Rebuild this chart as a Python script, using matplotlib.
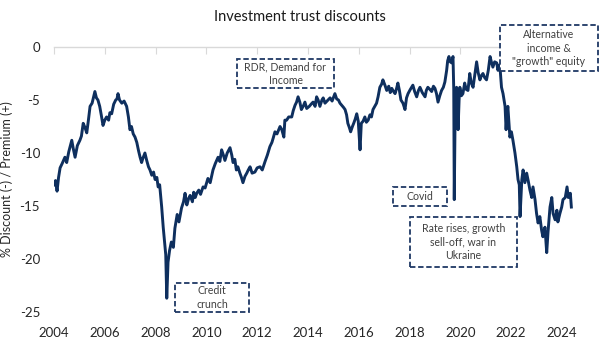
import matplotlib
matplotlib.use("Agg")
import matplotlib.pyplot as plt
from matplotlib.patches import Rectangle

plt.rcParams['font.family'] = ['Lato', 'DejaVu Sans']

# ---- data ----
years = [
    2004.00, 2004.06, 2004.12, 2004.18, 2004.24, 2004.32, 2004.43, 2004.50, 2004.58, 2004.70,
    2004.76, 2004.83, 2004.92, 2005.02, 2005.08, 2005.15, 2005.22, 2005.29, 2005.36, 2005.42,
    2005.50, 2005.57, 2005.61, 2005.67, 2005.73, 2005.80, 2005.86, 2005.93, 2006.00, 2006.07,
    2006.15, 2006.20, 2006.27, 2006.35, 2006.43, 2006.48, 2006.52, 2006.58, 2006.67, 2006.76,
    2006.86, 2006.93, 2006.99, 2007.05, 2007.12, 2007.19, 2007.26, 2007.33, 2007.39, 2007.45,
    2007.50, 2007.58, 2007.65, 2007.72, 2007.78, 2007.85, 2007.92, 2007.98, 2008.05, 2008.10,
    2008.16, 2008.24, 2008.30, 2008.37, 2008.40, 2008.44, 2008.49, 2008.55, 2008.62, 2008.70,
    2008.76, 2008.85, 2008.92, 2009.02, 2009.10, 2009.16, 2009.23, 2009.30, 2009.36, 2009.45,
    2009.50, 2009.56, 2009.62, 2009.70, 2009.77, 2009.87, 2009.95, 2010.06, 2010.15, 2010.26,
    2010.35, 2010.46, 2010.53, 2010.60, 2010.67, 2010.73, 2010.82, 2010.93, 2011.00, 2011.05,
    2011.12, 2011.18, 2011.24, 2011.32, 2011.38, 2011.44, 2011.52, 2011.59, 2011.65, 2011.72,
    2011.80, 2011.91, 2012.00, 2012.11, 2012.20, 2012.31, 2012.40, 2012.50, 2012.58, 2012.63,
    2012.70, 2012.78, 2012.90, 2012.97, 2013.05, 2013.09, 2013.16, 2013.24, 2013.36, 2013.42,
    2013.49, 2013.55, 2013.61, 2013.68, 2013.74, 2013.81, 2013.88, 2013.95, 2014.05, 2014.12,
    2014.20, 2014.28, 2014.34, 2014.40, 2014.47, 2014.55, 2014.60, 2014.67, 2014.75, 2014.87,
    2014.95, 2015.06, 2015.13, 2015.20, 2015.26, 2015.33, 2015.40, 2015.46, 2015.52, 2015.57,
    2015.63, 2015.68, 2015.75, 2015.80, 2015.86, 2015.92, 2015.98, 2016.05, 2016.10, 2016.17,
    2016.24, 2016.30, 2016.37, 2016.44, 2016.50, 2016.56, 2016.63, 2016.70, 2016.76, 2016.83,
    2016.90, 2016.95, 2017.03, 2017.10, 2017.18, 2017.24, 2017.30, 2017.37, 2017.43, 2017.49,
    2017.54, 2017.60, 2017.66, 2017.74, 2017.82, 2017.88, 2017.94, 2018.03, 2018.13, 2018.20,
    2018.28, 2018.35, 2018.41, 2018.50, 2018.61, 2018.66, 2018.72, 2018.80, 2018.87, 2018.94,
    2019.00, 2019.06, 2019.12, 2019.19, 2019.26, 2019.33, 2019.39, 2019.46, 2019.50, 2019.55,
    2019.60, 2019.66, 2019.71, 2019.74, 2019.76, 2019.79, 2019.82, 2019.85, 2019.88, 2019.91,
    2019.95, 2019.98, 2020.04, 2020.10, 2020.17, 2020.23, 2020.30, 2020.37, 2020.43, 2020.50,
    2020.57, 2020.64, 2020.70, 2020.77, 2020.83, 2020.89, 2020.96, 2021.03, 2021.10, 2021.17,
    2021.22, 2021.28, 2021.35, 2021.43, 2021.48, 2021.53, 2021.56, 2021.62, 2021.68, 2021.76,
    2021.80, 2021.84, 2021.87, 2021.95, 2022.01, 2022.07, 2022.15, 2022.22, 2022.27, 2022.32,
    2022.35, 2022.42, 2022.47, 2022.54, 2022.61, 2022.67, 2022.74, 2022.81, 2022.86, 2022.94,
    2023.00, 2023.06, 2023.13, 2023.20, 2023.25, 2023.33, 2023.40, 2023.45, 2023.53, 2023.60,
    2023.65, 2023.73, 2023.80, 2023.84, 2023.92, 2023.99, 2024.04, 2024.13, 2024.20, 2024.25,
    2024.33, 2024.37,
]
discount = [
    -13.0, -12.6, -13.6, -12.3, -11.4, -11.0, -10.4, -10.9, -9.9, -8.8,
    -9.6, -10.4, -9.3, -8.8, -8.4, -7.2, -7.6, -8.1, -6.8, -5.6,
    -5.3, -4.6, -4.2, -4.8, -5.0, -5.6, -6.4, -7.4, -6.9, -6.6,
    -6.9, -6.2, -6.3, -5.4, -5.0, -4.9, -4.4, -5.0, -5.3, -5.1,
    -5.6, -6.6, -7.8, -7.5, -8.2, -8.5, -9.0, -9.8, -10.4, -10.9,
    -10.5, -10.0, -10.7, -11.3, -11.6, -12.1, -11.8, -12.5, -12.3, -13.2,
    -13.0, -15.1, -17.0, -18.9, -19.6, -23.7, -20.3, -19.2, -18.4, -18.9,
    -17.1, -15.8, -16.5, -15.2, -14.6, -13.8, -14.9, -14.3, -14.0, -14.6,
    -13.7, -14.2, -13.8, -13.5, -13.9, -13.2, -13.3, -12.4, -12.8, -11.6,
    -11.0, -10.4, -10.8, -9.7, -10.2, -10.7, -10.0, -9.5, -10.2, -10.9,
    -10.6, -11.6, -11.3, -11.9, -12.3, -12.8, -12.2, -11.9, -11.6, -11.3,
    -11.9, -11.8, -11.4, -11.3, -11.6, -10.8, -10.2, -9.4, -9.0, -8.6,
    -8.0, -8.2, -7.5, -7.8, -8.5, -6.9, -6.9, -6.6, -6.6, -6.0,
    -5.5, -5.2, -4.7, -5.2, -5.9, -5.6, -5.2, -5.8, -5.6, -5.4,
    -5.2, -5.6, -4.7, -5.0, -5.6, -5.0, -4.8, -5.3, -5.1, -4.8,
    -5.1, -4.4, -4.9, -5.0, -5.3, -5.5, -5.7, -5.9, -6.4, -7.2,
    -7.6, -8.0, -7.5, -7.2, -6.8, -6.3, -7.0, -9.7, -7.2, -7.0,
    -6.6, -7.1, -6.9, -6.4, -6.6, -5.9, -5.6, -5.3, -4.7, -3.8,
    -3.5, -3.1, -3.6, -4.1, -3.7, -4.3, -3.9, -4.2, -4.4, -3.9,
    -3.4, -4.1, -5.0, -5.3, -5.9, -4.8, -4.4, -4.0, -3.6, -4.2,
    -4.7, -4.1, -3.8, -4.3, -4.7, -4.1, -3.8, -4.0, -4.2, -3.7,
    -3.9, -4.4, -5.2, -4.6, -4.1, -3.8, -3.3, -2.2, -1.3, -0.9,
    -1.4, -1.5, -0.9, -4.0, -14.4, -7.2, -5.5, -3.8, -5.0, -7.8,
    -5.0, -3.8, -4.6, -4.4, -3.4, -4.0, -4.1, -2.5, -3.4, -3.8,
    -2.6, -1.4, -2.4, -3.1, -2.7, -2.5, -2.9, -3.1, -2.2, -0.9,
    -1.4, -1.9, -1.4, -1.5, -2.2, -1.7, -1.9, -3.8, -4.4, -5.6,
    -7.8, -6.2, -5.6, -8.5, -8.0, -8.8, -10.0, -11.3, -12.5, -13.0,
    -16.0, -12.5, -11.6, -12.8, -11.9, -12.6, -13.5, -14.2, -13.2, -14.4,
    -15.7, -16.6, -16.0, -17.3, -17.9, -17.0, -19.4, -17.5, -15.1, -14.2,
    -15.7, -16.3, -15.4, -16.5, -15.7, -15.1, -14.4, -14.2, -13.2, -14.2,
    -13.8, -15.1,
]
xticks = [2004, 2006, 2008, 2010, 2012, 2014, 2016, 2018, 2020, 2022, 2024]
yticks = [0, -5, -10, -15, -20, -25]

annotations = [
    ("RDR, Demand for\nIncome", (237, 59, 334, 88)),
    ("Alternative\nincome &\n\"growth\" equity", (500, 25, 598, 71)),
    ("Covid", (393, 187, 447, 206)),
    ("Rate rises, growth\nsell-off, war in\nUkraine", (410, 217, 517, 267)),
    ("Credit\ncrunch", (175, 283, 249, 312)),
]

W, H = 600, 350
fig = plt.figure(figsize=(6, 3.5), dpi=100)
fig.patch.set_facecolor('white')

ax = fig.add_axes([54 / W, 1 - 312 / H, (581 - 54) / W, (312 - 47) / H])
ax.plot(years, discount, color='#0E2F5E', lw=2.1, solid_joinstyle='round')

ax.set_xlim(2004, 2024.75)
ax.set_ylim(-25, 0)
ax.set_xticks(xticks)
ax.set_xticklabels([str(t) for t in xticks])
ax.set_yticks(yticks)
ax.set_yticklabels([str(t) for t in yticks])

for s in ['left', 'right', 'bottom']:
    ax.spines[s].set_visible(False)
ax.spines['top'].set_color('#D9D9D9')
ax.spines['top'].set_linewidth(1.0)

ax.tick_params(axis='x', top=True, bottom=False, labeltop=False, labelbottom=True,
               direction='in', length=5, color='#D9D9D9', pad=11,
               labelsize=9.5, labelcolor='#262626')
ax.tick_params(axis='y', left=False, length=0, labelsize=9.5, labelcolor='#262626', pad=10)

ax.set_ylabel('% Discount (-) / Premium (+)', fontsize=9, color='#262626')
ax.yaxis.set_label_coords((13 - 54) / (581 - 54), 0.5)

fig.text(300 / W, 1 - 17 / H, 'Investment trust discounts', ha='center', va='center',
         fontsize=10.5, color='#1a1a1a')

for text, (x0, y0, x1, y1) in annotations:
    rect = Rectangle((x0 / W, 1 - y1 / H), (x1 - x0) / W, (y1 - y0) / H,
                     transform=fig.transFigure, facecolor='white',
                     edgecolor='#1F3864', lw=1.3, linestyle=(0, (3, 1.5)), zorder=5)
    fig.add_artist(rect)
    fig.text((x0 + x1) / 2 / W, 1 - (y0 + y1) / 2 / H, text, ha='center', va='center',
             fontsize=7.6, color='#404040', linespacing=1.3, zorder=6)

fig.savefig('out.png', dpi=100)
